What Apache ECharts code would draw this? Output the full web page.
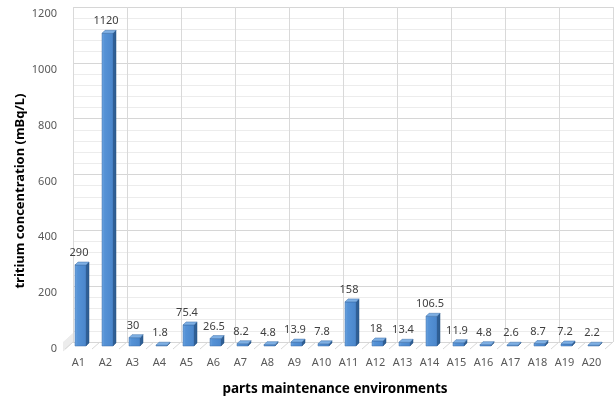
<!DOCTYPE html>
<html>
<head>
<meta charset="utf-8">
<script src="https://cdn.jsdelivr.net/npm/echarts@6/dist/echarts.min.js"></script>
<style>html,body{margin:0;padding:0;background:#fff}#c{width:614px;height:402px}</style>
</head>
<body>
<div id="c"></div>
<script>
const categories = ['A1','A2','A3','A4','A5','A6','A7','A8','A9','A10','A11','A12','A13','A14','A15','A16','A17','A18','A19','A20'];
const values = [290, 1120, 30, 1.8, 75.4, 26.5, 8.2, 4.8, 13.9, 7.8, 158, 18, 13.4, 106.5, 11.9, 4.8, 2.6, 8.7, 7.2, 2.2];
const valueLabels = ['290','1120','30','1.8','75.4','26.5','8.2','4.8','13.9','7.8','158','18','13.4','106.5','11.9','4.8','2.6','8.7','7.2','2.2'];
const yMin = 0, yMax = 1200, yInterval = 200, yMinorSplit = 5;
const yTitle = 'tritium concentration (mBq/L)';
const xTitle = 'parts maintenance environments';

const FONT = '"Noto Sans", "Open Sans", sans-serif';
const DX = 8, DY = -7; // depth offset front -> back wall

// wall tick values derived from the axis settings
const wallTicks = [];
for (let v = yMin; v <= yMax + 1e-9; v += yInterval / yMinorSplit) wallTicks.push(Math.round(v * 1000) / 1000);
const floorIdx = categories.map((c, i) => i).concat([categories.length]);

const chart = echarts.init(document.getElementById('c'), null, {renderer: 'canvas'});
chart.setOption({
  animation: false,
  backgroundColor: '#fff',
  grid: [
    {left: 73, right: 1, top: 7, bottom: 60},   // back wall
    {left: 65, right: 9, top: 14, bottom: 53},  // front plane (labels)
    {left: 67, right: 7, top: 11, bottom: 56}   // bars
  ],
  graphic: [
    {type: 'text', x: 20, y: 191, rotation: Math.PI / 2,
     style: {text: yTitle, align: 'center', verticalAlign: 'middle', fill: '#000',
       fontSize: 13, fontWeight: 'bold', fontFamily: FONT}}
  ],
  xAxis: [
    {gridIndex: 0, type: 'category', data: categories, boundaryGap: true,
     axisLine: {show: false}, axisTick: {show: false}, axisLabel: {show: false},
     splitLine: {show: true, lineStyle: {color: '#d9d9d9', width: 1}}},
    {gridIndex: 1, type: 'category', data: categories, boundaryGap: true,
     axisLine: {show: false}, axisTick: {show: false},
     axisLabel: {color: '#595959', fontSize: 11, fontFamily: FONT, margin: 8, interval: 0},
     name: xTitle, nameLocation: 'middle', nameGap: 33,
     nameTextStyle: {color: '#000', fontSize: 13.5, fontWeight: 'bold', fontFamily: FONT},
     splitLine: {show: false}},
    {gridIndex: 2, type: 'category', data: categories, boundaryGap: true, show: false}
  ],
  yAxis: [
    {gridIndex: 0, type: 'value', min: yMin, max: yMax, interval: yInterval,
     axisLine: {show: false}, axisTick: {show: false}, axisLabel: {show: false},
     splitLine: {show: true, lineStyle: {color: '#d6d6d6', width: 1}},
     minorTick: {show: false, splitNumber: yMinorSplit},
     minorSplitLine: {show: true, lineStyle: {color: '#ececec', width: 1}}},
    {gridIndex: 1, type: 'value', min: yMin, max: yMax, interval: yInterval,
     axisLine: {show: false}, axisTick: {show: false},
     axisLabel: {color: '#595959', fontSize: 11, fontFamily: FONT, margin: 8,
       formatter: function (v) { return String(v); }},
     splitLine: {show: false}},
    {gridIndex: 2, type: 'value', min: yMin, max: yMax, show: false}
  ],
  series: [
    { // left side wall lines
      type: 'custom', xAxisIndex: 1, yAxisIndex: 1, silent: true, z: 1,
      data: wallTicks,
      renderItem: function (params, api) {
        const v = api.value(0);
        const p = api.coord([0, v]);
        const half = api.size([1, 0])[0] / 2;
        const x = p[0] - half;
        const major = Math.abs(v / yInterval - Math.round(v / yInterval)) < 1e-6;
        return {type: 'line', shape: {x1: x - 2, y1: p[1] + 2, x2: x + DX, y2: p[1] + DY},
          style: {stroke: major ? '#d6d6d6' : '#ececec', lineWidth: 1}};
      }
    },
    { // floor lines
      type: 'custom', xAxisIndex: 1, yAxisIndex: 1, silent: true, z: 1,
      data: floorIdx,
      renderItem: function (params, api) {
        const k = api.value(0);
        const half = api.size([1, 0])[0] / 2;
        let x;
        if (k < categories.length) x = api.coord([k, 0])[0] - half;
        else x = api.coord([k - 1, 0])[0] + half;
        const y = api.coord([0, 0])[1];
        return {type: 'line', shape: {x1: x, y1: y, x2: x + DX, y2: y + DY},
          style: {stroke: '#d9d9d9', lineWidth: 1}};
      }
    },
    { // 3D bars
      type: 'custom', xAxisIndex: 2, yAxisIndex: 2, z: 5,
      data: values.map((v, i) => [i, v]),
      renderItem: function (params, api) {
        const i = api.value(0), v = api.value(1);
        const top = api.coord([i, v]);
        const bot = api.coord([i, 0]);
        const w = 11, d = 3;
        const x0 = Math.round(top[0] - 5.5);
        const yt = top[1], yb = bot[1];
        const h = Math.max(yb - yt, 0.8);
        return {type: 'group', children: [
          {type: 'polygon', shape: {points: [[x0 + w, yt], [x0 + w + d, yt - d], [x0 + w + d, yb - d], [x0 + w, yb]]},
           style: {fill: '#2f5f95', stroke: '#27507e', lineWidth: 0.5}},
          {type: 'rect', shape: {x: x0, y: yb - h, width: w, height: h},
           style: {fill: new echarts.graphic.LinearGradient(0, 0, 1, 0, [
             {offset: 0, color: '#6fa6e0'}, {offset: 0.25, color: '#5592d6'}, {offset: 1, color: '#4a86cb'}]),
             stroke: '#3c6fa8', lineWidth: 0.5}},
          {type: 'polygon', shape: {points: [[x0, yb - h], [x0 + d, yb - h - d], [x0 + w + d, yb - h - d], [x0 + w, yb - h]]},
           style: {fill: '#7fb0e4', stroke: '#3c6fa8', lineWidth: 0.5}},
          {type: 'text', style: {text: valueLabels[i], x: top[0] - 1.5, y: yb - h - 12,
            align: 'center', verticalAlign: 'middle', fill: '#404040', fontSize: 11, fontFamily: FONT}}
        ]};
      }
    }
  ]
});
</script>
</body>
</html>
